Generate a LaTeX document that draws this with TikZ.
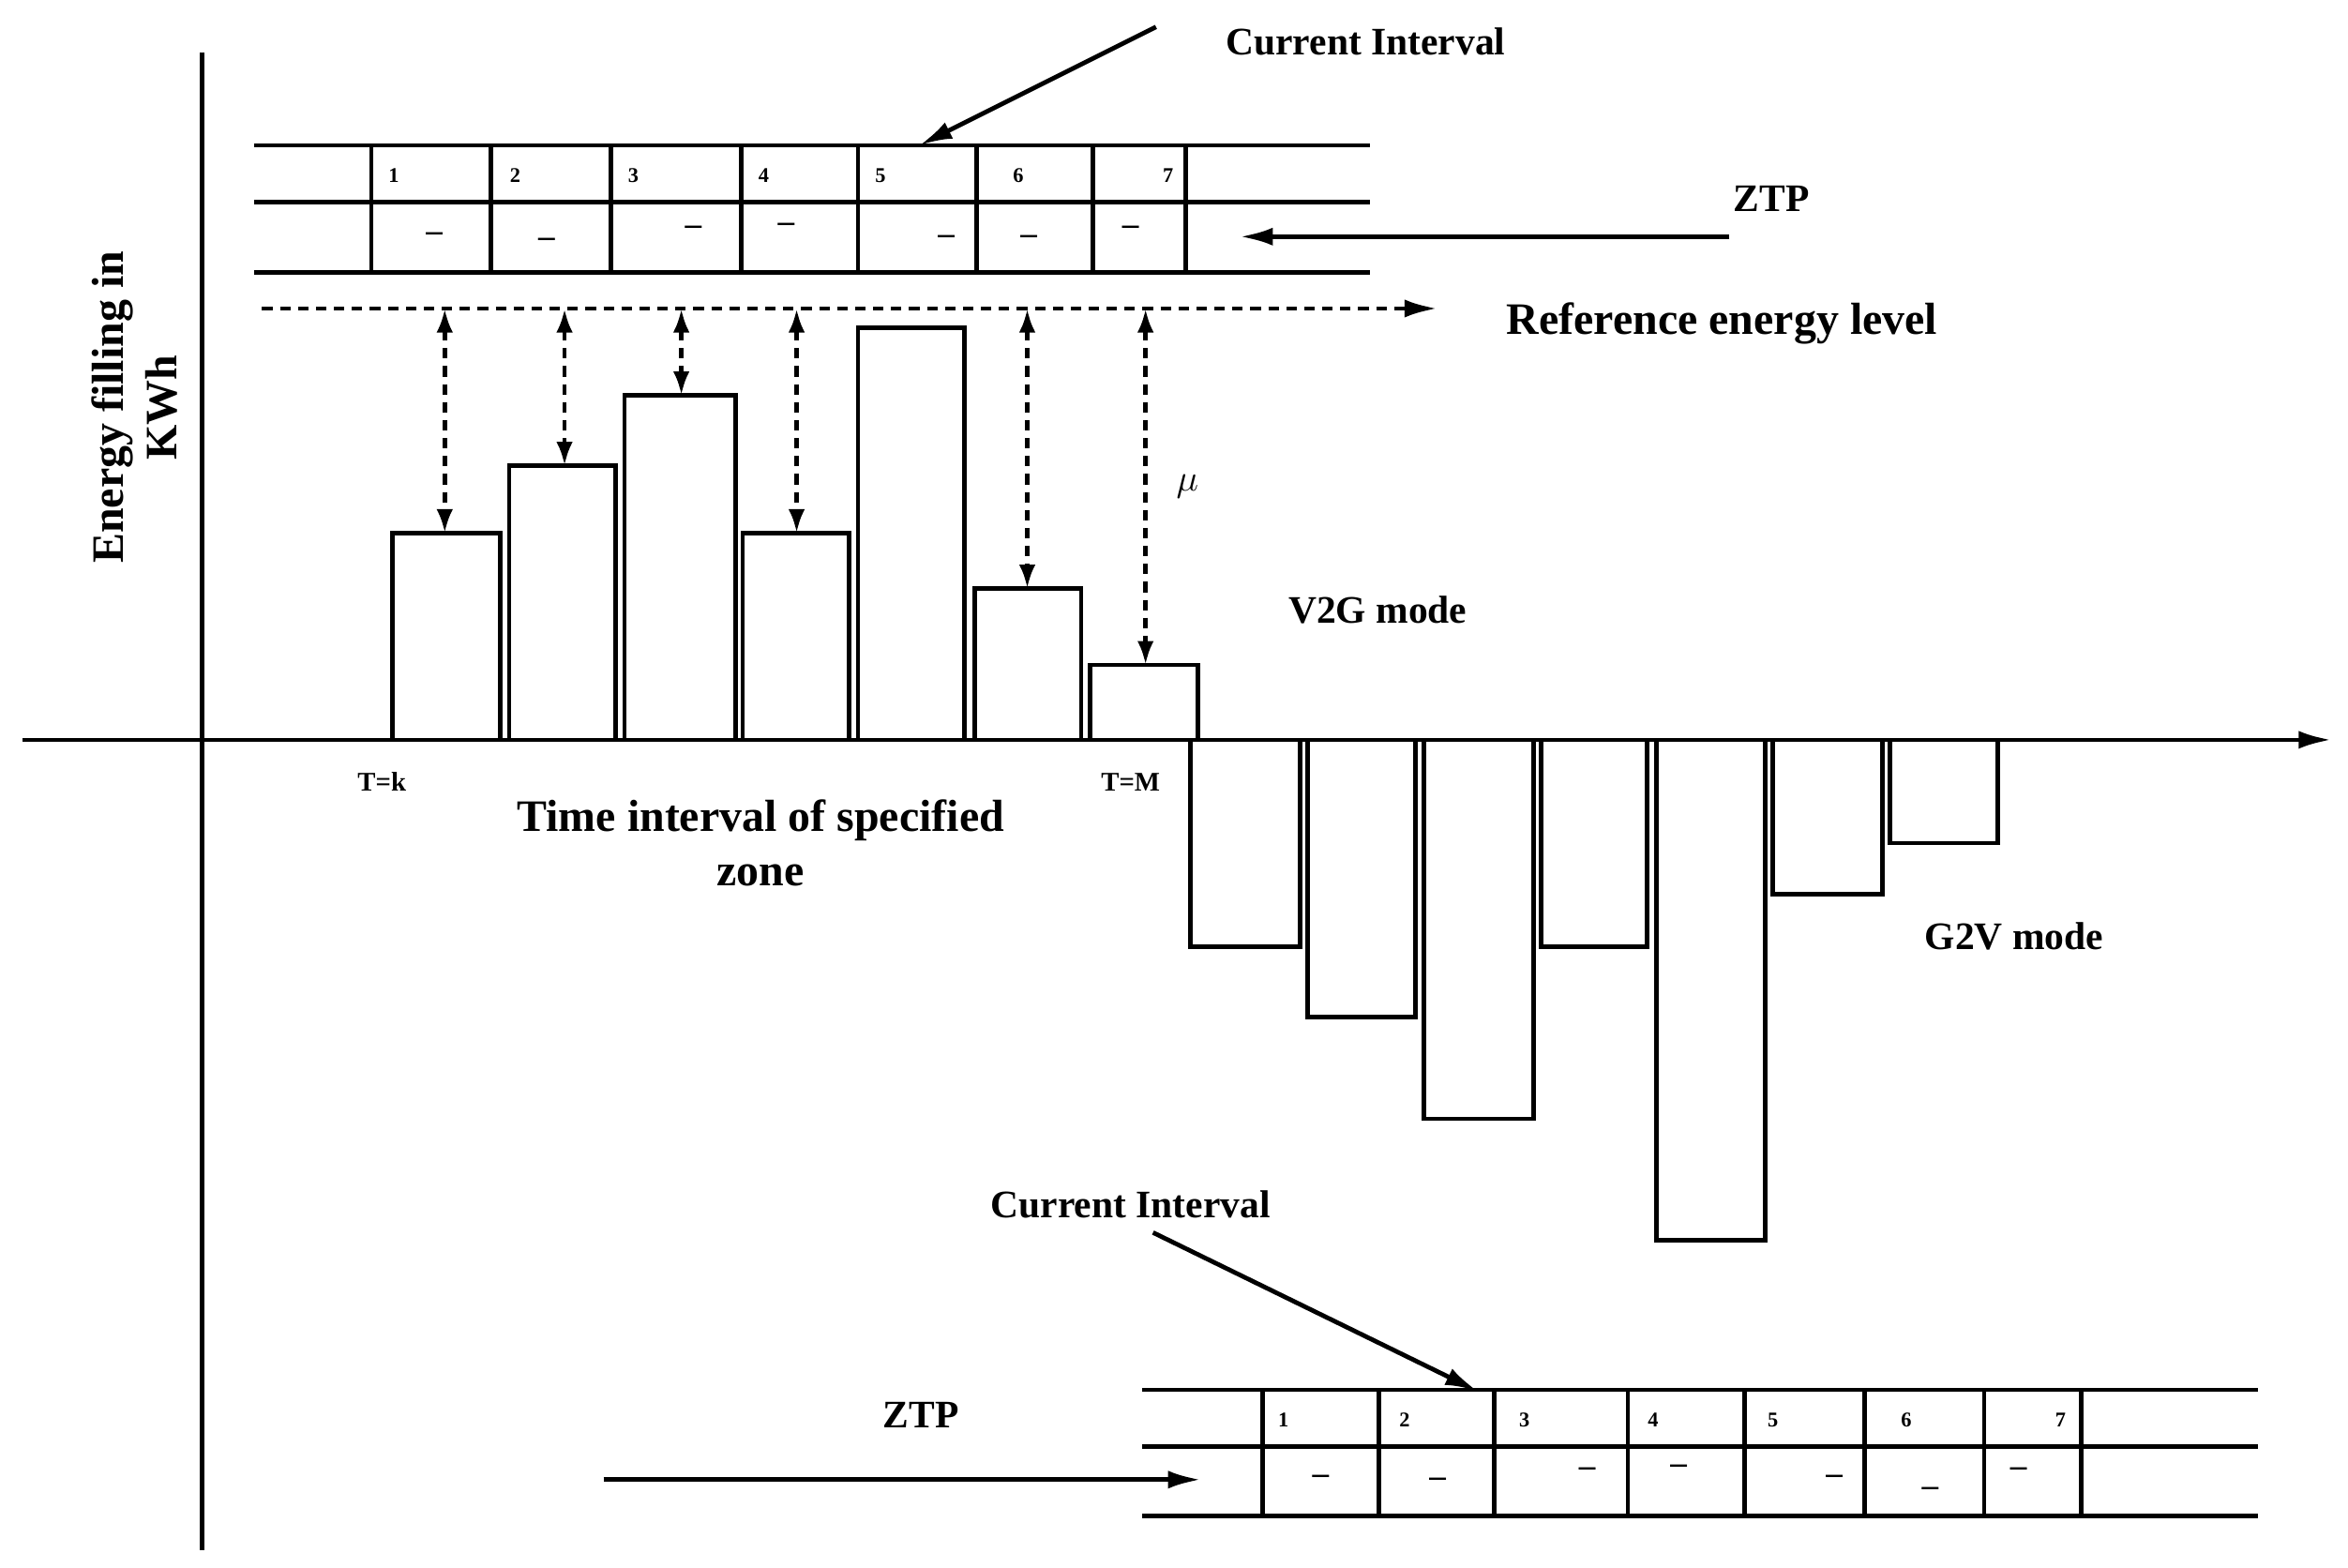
\documentclass[tikz,border=0pt]{standalone}
\usepackage{fontspec}
\setmainfont{Liberation Serif}
\usetikzlibrary{arrows.meta}
\begin{document}
\begin{tikzpicture}[x=1pt,y=-1pt,line width=3pt,
  lbl/.style={font=\fontsize{26}{30}\selectfont\bfseries,inner sep=0pt},
  big/.style={font=\fontsize{30}{36}\selectfont\bfseries,inner sep=0pt,align=center},
  num/.style={font=\fontsize{14}{16}\selectfont\bfseries,inner sep=0pt},
  dsh/.style={font=\fontsize{22}{22}\selectfont\bfseries,inner sep=0pt},
  arr/.style={-{Latex[length=22pt,width=12pt]}},
  darr/.style={{Latex[length=16pt,width=11pt]}-{Latex[length=16pt,width=11pt]},dashed,dash pattern=on 7pt off 5pt},
  bar/.style={line width=3pt}]
\useasboundingbox (0,0) rectangle (1568,1047);
% axes
\draw (135,35) -- (135,1035);
\draw[arr] (15,494) -- (1557,494);
\node[big,rotate=90,align=center] (ylab) at (90,272) {Energy filling in\\KWh};
% top table
\foreach \y in {97,135,182} \draw (170,\y) -- (915,\y);
\foreach \x in {248,328,408,495,573,652,730,792} \draw (\x,97) -- (\x,182);
\foreach \x/\n in {263/1,344/2,423/3,510/4,588/5,680/6,780/7} \node[num] at (\x,117) {\n};
\foreach \x/\y in {290/158,365/162,463/154,525/152,632/160,687/160,755/154} \node[dsh] at (\x,\y) {--};
\node[lbl] (ci1) at (912,28) {Current Interval};
\coordinate (ci1s) at (772,18); \coordinate (ci1e) at (614,97);
\draw[arr] (ci1s) -- (ci1e);
\node[lbl] (ztp1) at (1183,133) {ZTP};
\coordinate (z1s) at (1155,158); \coordinate (z1e) at (828,158);
\draw[arr] (z1s) -- (z1e);
% reference
\coordinate (r1) at (175,206); \coordinate (r2) at (960,206);
\draw[arr,dashed,dash pattern=on 7pt off 5pt] (r1) -- (r2);
\node[big] (ref) at (1150,216) {Reference energy level};
% positive bars
\foreach \a/\b/\t in {262/334/356,340/411/311,417/491/264,496/567/356,573/644/219,651/722/393,728/800/444}
  \draw[bar] (\a,494) -- (\a,\t) -- (\b,\t) -- (\b,494);
\foreach \x/\t in {297/356,377/311,455/264,532/356,686/393,765/444}
  \draw[darr] (\x,206) -- (\x,\t);
\node[font=\fontsize{30}{30}\selectfont,inner sep=0pt] (mu) at (793,325) {$\mu$};
\node[lbl] (v2g) at (920,407) {V2G mode};
\node[num,font=\fontsize{18}{20}\selectfont\bfseries] (tk) at (255,522) {T=k};
\node[num,font=\fontsize{18}{20}\selectfont\bfseries] (tm) at (755,522) {T=M};
\node[big] (tiz) at (508,563) {Time interval of specified\\zone};
% negative bars
\foreach \a/\b/\t in {795/868/632,873/945/679,951/1024/747,1029/1100/632,1106/1179/828,1184/1257/597,1262/1334/563}
  \draw[bar] (\a,494) -- (\a,\t) -- (\b,\t) -- (\b,494);
\node[lbl] (g2v) at (1345,625) {G2V mode};
% bottom table
\foreach \y in {928,966,1012} \draw (763,\y) -- (1508,\y);
\foreach \x in {843,921,998,1087,1165,1245,1325,1390} \draw (\x,928) -- (\x,1012);
\foreach \x/\n in {857/1,938/2,1018/3,1104/4,1184/5,1273/6,1376/7} \node[num] at (\x,948) {\n};
\foreach \x/\y in {882/988,960/990,1060/983,1121/981,1225/988,1289/996,1348/983} \node[dsh] at (\x,\y) {--};
\node[lbl] (ci2) at (755,804) {Current Interval};
\coordinate (ci2s) at (770,823); \coordinate (ci2e) at (987,929);
\draw[arr] (ci2s) -- (ci2e);
\node[lbl] (ztp2) at (615,945) {ZTP};
\coordinate (z2s) at (403,988); \coordinate (z2e) at (802,988);
\draw[arr] (z2s) -- (z2e);
\end{tikzpicture}
\end{document}
